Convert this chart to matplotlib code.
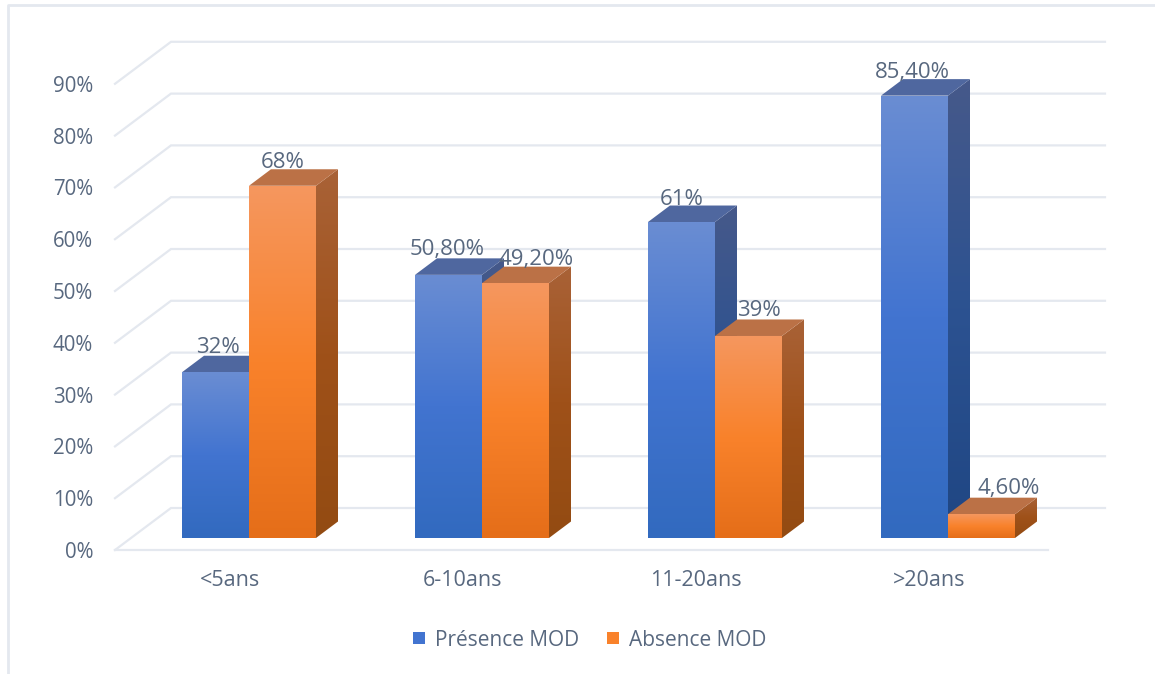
import numpy as np
import matplotlib
matplotlib.use("Agg")
import matplotlib.pyplot as plt
from matplotlib.colors import LinearSegmentedColormap
from matplotlib.lines import Line2D
from matplotlib.patches import Patch, Polygon

plt.rcParams['font.family'] = ['Open Sans', 'DejaVu Sans']

categories = ['<5ans', '6-10ans', '11-20ans', '>20ans']
presence = [32, 50.8, 61, 85.4]
absence = [68, 49.2, 39, 4.6]
presence_labels = ['32%', '50,80%', '61%', '85,40%']
absence_labels = ['68%', '49,20%', '39%', '4,60%']
y_ticks = [0, 10, 20, 30, 40, 50, 60, 70, 80, 90]
legend_names = ['Présence MOD', 'Absence MOD']

W, H = 1155, 674
PX_X = 233.0    # pixels per category
PX_Y = 5.18     # pixels per percent
X0, Y0 = 249, 538   # where category 0 / 0% sit

BAR_W = 67 / PX_X
DX = 22 / PX_X
DY = 16.5 / PX_Y

GRID = '#e4e8ef'
TEXT = '#58687f'

blue_front = LinearSegmentedColormap.from_list('bf', ['#326abf', '#4274d0', '#6a8dd3'])
blue_side = LinearSegmentedColormap.from_list('bs', ['#1f4683', '#2c5291', '#46598a'])
orange_front = LinearSegmentedColormap.from_list('of', ['#e56e19', '#f9822b', '#f5975f'])
orange_side = LinearSegmentedColormap.from_list('os', ['#934b12', '#9f5119', '#a96237'])

ramp = np.linspace(0, 1, 256)[:, None]


def px(x):
    return (x - X0) / PX_X


def py(y):
    return (Y0 - y) / PX_Y


def shaded(ax, pts, cmap, z):
    # gradient image clipped to the face outline
    pts = np.array(pts)
    im = ax.imshow(ramp, cmap=cmap, origin='lower', aspect='auto', zorder=z,
                   extent=[pts[:, 0].min(), pts[:, 0].max(), pts[:, 1].min(), pts[:, 1].max()])
    im.set_clip_path(Polygon(pts, closed=True, transform=ax.transData))


def bar3d(ax, x0, val, front, side, top, z):
    x1 = x0 + BAR_W
    shaded(ax, [(x1, 0), (x1 + DX, DY), (x1 + DX, val + DY), (x1, val)], side, z)
    ax.add_patch(Polygon([(x0, val), (x1, val), (x1 + DX, val + DY), (x0 + DX, val + DY)],
                         closed=True, fc=top, ec='none', zorder=z))
    shaded(ax, [(x0, 0), (x1, 0), (x1, val), (x0, val)], front, z + 0.1)


fig = plt.figure(figsize=(W / 100, H / 100), dpi=100)
ax = fig.add_axes([0, 0, 1, 1])
ax.axis('off')

# outer chart border
fig.add_artist(Line2D([8 / W, 8 / W, 1], [0, 1 - 5 / H, 1 - 5 / H], color=GRID, lw=2))

# walls: diagonal on the floor side, then along the back
for v in y_ticks:
    ax.plot([px(115), px(171), px(1105)],
            [v + py(550), v + py(550) + 42 / PX_Y, v + py(550) + 42 / PX_Y],
            color=GRID, lw=1.6, zorder=1, solid_joinstyle='miter')
    ax.text(px(93), v + py(552.5), '%d%%' % v, ha='right', va='center',
            fontsize=14.8, color=TEXT)
ax.plot([px(115), px(1048)], [py(550), py(550)], color=GRID, lw=1.6, zorder=1)

# bars, left to right so the nearer faces cover the sides
z = 2
for i in range(len(categories)):
    bar3d(ax, i - BAR_W, presence[i], blue_front, blue_side, '#4f679f', z)
    bar3d(ax, i, absence[i], orange_front, orange_side, '#bb7146', z + 1)
    z += 2

# data labels sit just above the bar tops, shifted a little where they would collide
presence_nudge = [(2, 25), (-1, 25), (0, 23), (-2, 23)]
absence_nudge = [(0, 23), (21, 24), (10, 25), (27, 26)]
for i in range(len(categories)):
    ax.text(i - BAR_W / 2 + presence_nudge[i][0] / PX_X, presence[i] + presence_nudge[i][1] / PX_Y,
            presence_labels[i], ha='center', va='center', fontsize=16, color=TEXT, zorder=20)
    ax.text(i + BAR_W / 2 + absence_nudge[i][0] / PX_X, absence[i] + absence_nudge[i][1] / PX_Y,
            absence_labels[i], ha='center', va='center', fontsize=16, color=TEXT, zorder=20)

for i, name in enumerate(categories):
    ax.text(i - 19 / PX_X, py(581), name, ha='center', va='center', fontsize=15.5, color=TEXT)

handles = [Patch(fc='#4274d0', ec='none'), Patch(fc='#f9822b', ec='none')]
ax.legend(handles, legend_names, ncol=2, frameon=False, loc='center',
          bbox_to_anchor=(590 / W, 1 - 640 / H), bbox_transform=fig.transFigure,
          fontsize=15, labelcolor=TEXT, handlelength=0.55, handleheight=0.55,
          handletextpad=0.5, columnspacing=1.35)

ax.set_xlim(px(0), px(W))
ax.set_ylim(py(H), py(0))

fig.savefig('out.png', dpi=100)
